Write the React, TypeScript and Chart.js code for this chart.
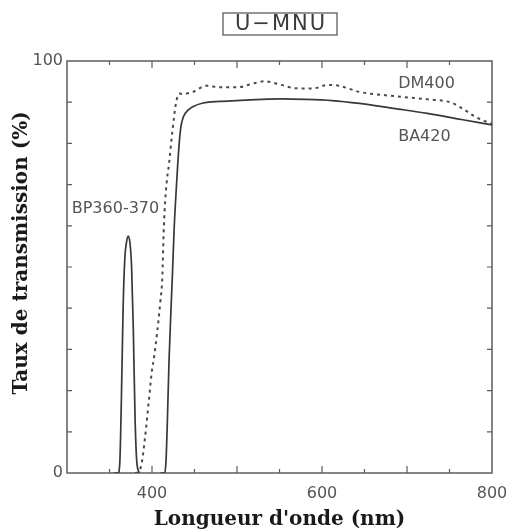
import React, { useEffect, useRef } from "react";
import { Chart, registerables } from "chart.js";

Chart.register(...registerables);

// Excitation filter BP360-370 (solid)
const bpWavelengths = [355, 360, 362, 364, 366, 368, 370, 372, 374, 376, 378, 380, 382, 385];
const bpTransmission = [0, 0, 2, 18, 40, 52, 56, 57.5, 56, 50, 35, 14, 3, 0];

// Barrier filter BA420 (solid)
const baWavelengths = [410, 415, 416.5, 418, 420, 422, 424, 426, 428, 430, 432, 434, 437, 442, 448, 460, 480, 500, 530, 552, 580, 612, 644, 684, 724, 764, 800];
const baTransmission = [0, 0, 3, 12, 27, 38, 48, 59, 67, 74, 80, 84, 86.5, 88, 88.9, 89.8, 90.2, 90.4, 90.7, 90.8, 90.7, 90.4, 89.7, 88.5, 87.3, 85.8, 84.5];

// Dichroic mirror DM400 (dotted)
const dmWavelengths = [380, 385, 388, 392, 396, 400, 402, 406, 410, 412, 414, 417, 420, 424, 428, 432, 436, 448, 464, 480, 500, 520, 532, 552, 568, 588, 608, 620, 644, 684, 724, 752, 768, 780, 800];
const dmTransmission = [0, 0.5, 2.5, 9, 17, 25, 27.5, 34, 42, 47, 60, 70, 75, 83, 89.5, 92.1, 92, 92.5, 94, 93.6, 93.6, 94.6, 95.1, 94.2, 93.4, 93.3, 94.2, 94, 92.5, 91.5, 90.7, 89.9, 88.1, 86.5, 84.7];

const xLabelledTicks = [400, 600, 800];
const yLabelledTicks = [0, 100];

const titleText = "U\u2212MNU";
const xTitle = "Longueur d'onde (nm)";
const yTitle = "Taux de transmission (%)";

const toPoints = (xs: number[], ys: number[]) => xs.map((x, i) => ({ x, y: ys[i] }));

const LINE = "#383838";
const FRAME = "#5c5c5c";
const TEXT = "#555555";

const decorPlugin = {
  id: "decor",
  beforeDatasetsDraw(chart: any) {
    const { ctx, chartArea: a, scales } = chart;
    ctx.save();
    ctx.strokeStyle = FRAME;
    ctx.lineWidth = 1.5;
    ctx.strokeRect(a.left, a.top, a.right - a.left, a.bottom - a.top);
    ctx.lineWidth = 1.2;
    ctx.beginPath();
    for (const t of scales.x.ticks) {
      if (t.value <= scales.x.min || t.value >= scales.x.max) continue;
      const px = scales.x.getPixelForValue(t.value);
      const len = t.value % 100 === 0 ? 7 : 4;
      ctx.moveTo(px, a.bottom);
      ctx.lineTo(px, a.bottom - len);
      ctx.moveTo(px, a.top);
      ctx.lineTo(px, a.top + len);
    }
    for (const t of scales.y.ticks) {
      if (t.value <= scales.y.min || t.value >= scales.y.max) continue;
      const py = scales.y.getPixelForValue(t.value);
      ctx.moveTo(a.left, py);
      ctx.lineTo(a.left + 5, py);
      ctx.moveTo(a.right, py);
      ctx.lineTo(a.right - 5, py);
    }
    ctx.stroke();
    ctx.restore();
  },
  afterDraw(chart: any) {
    const { ctx, chartArea: a, scales } = chart;
    const sx = scales.x, sy = scales.y;
    ctx.save();

    // boxed title
    ctx.font = "21px 'DejaVu Sans'";
    (ctx as any).letterSpacing = "2px";
    ctx.textAlign = "center";
    ctx.textBaseline = "middle";
    ctx.fillStyle = "#3a3a3a";
    const cx = 280;
    ctx.fillText(titleText, cx + 1, 25);
    (ctx as any).letterSpacing = "0px";
    ctx.strokeStyle = FRAME;
    ctx.lineWidth = 1.3;
    ctx.strokeRect(cx - 57, 13, 114, 22);

    // curve labels
    ctx.font = "16px 'DejaVu Sans'";
    ctx.fillStyle = TEXT;
    ctx.fillText("DM400", sx.getPixelForValue(723), sy.getPixelForValue(94.4));
    ctx.fillText("BA420", sx.getPixelForValue(720.5), sy.getPixelForValue(81.6));
    ctx.fillText("BP360-370", sx.getPixelForValue(357), sy.getPixelForValue(64.2));

    // vertical axis title
    ctx.font = "bold 20px 'DejaVu Serif'";
    ctx.fillStyle = "#1a1a1a";
    ctx.translate(22, 253);
    ctx.rotate(-Math.PI / 2);
    ctx.fillText(yTitle, 0, 0);
    ctx.restore();
  },
};

export default function App() {
  const canvasRef = useRef<HTMLCanvasElement | null>(null);

  useEffect(() => {
    if (!canvasRef.current) return;
    const chart = new Chart(canvasRef.current, {
      type: "line",
      data: {
        datasets: [
          {
            label: "BP360-370",
            data: toPoints(bpWavelengths, bpTransmission),
            borderColor: LINE,
            borderWidth: 1.7,
            pointRadius: 0,
            cubicInterpolationMode: "monotone",
          },
          {
            label: "BA420",
            data: toPoints(baWavelengths, baTransmission),
            borderColor: LINE,
            borderWidth: 1.7,
            pointRadius: 0,
            cubicInterpolationMode: "monotone",
          },
          {
            label: "DM400",
            data: toPoints(dmWavelengths, dmTransmission),
            borderColor: "#4a4a4a",
            borderWidth: 2,
            borderDash: [3, 4],
            pointRadius: 0,
            cubicInterpolationMode: "monotone",
          },
        ],
      },
      options: {
        responsive: false,
        animation: false,
        events: [],
        layout: { padding: { top: 61, right: 20, left: 0, bottom: 0 } },
        plugins: { legend: { display: false }, tooltip: { enabled: false }, title: { display: false } },
        scales: {
          x: {
            type: "linear",
            min: 300,
            max: 800,
            grid: { display: false, drawTicks: false },
            border: { display: false },
            afterFit: (s: any) => {
              s.height = 59;
              s.paddingLeft = 0;
              s.paddingRight = 0;
            },
            ticks: {
              stepSize: 50,
              autoSkip: false,
              maxRotation: 0,
              padding: 11,
              color: TEXT,
              font: { family: "'DejaVu Sans'", size: 16 },
              callback: (v: any) => (xLabelledTicks.includes(Number(v)) ? String(v) : ""),
            },
            title: {
              display: true,
              text: xTitle,
              color: "#1a1a1a",
              font: { family: "'DejaVu Serif'", size: 20, weight: "bold" },
              padding: { top: 0, bottom: 0 },
            },
          },
          y: {
            type: "linear",
            min: 0,
            max: 100,
            grid: { display: false, drawTicks: false },
            border: { display: false },
            afterFit: (s: any) => {
              s.width = 67;
              s.paddingTop = 0;
              s.paddingBottom = 0;
            },
            ticks: {
              stepSize: 10,
              autoSkip: false,
              padding: 4,
              color: TEXT,
              font: { family: "'DejaVu Sans'", size: 16 },
              callback: (v: any) => (yLabelledTicks.includes(Number(v)) ? String(v) : ""),
            },
          },
        },
      },
      plugins: [decorPlugin],
    });
    return () => chart.destroy();
  }, []);

  return (
    <div style={{ position: "fixed", left: 0, top: 0, width: 512, height: 532, background: "#fff" }}>
      <canvas ref={canvasRef} width={512} height={532} />
    </div>
  );
}
